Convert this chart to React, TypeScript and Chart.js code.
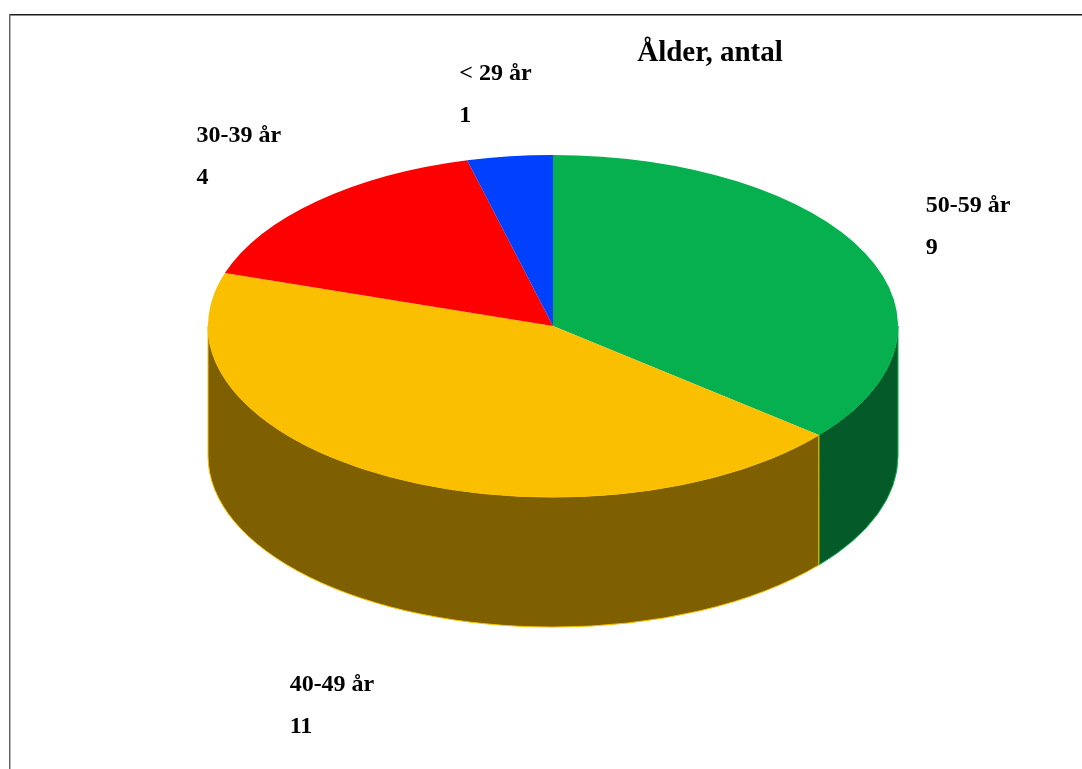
import React, { useEffect, useRef } from "react";
import { Chart, registerables } from "chart.js";

Chart.register(...registerables);

const categories = ["50-59 år", "40-49 år", "30-39 år", "< 29 år"];
const counts = [9, 11, 4, 1];
const titleText = "Ålder, antal";
const topColors = ["#07B04F", "#FAC000", "#FF0000", "#0040FF"];
const sideColors = ["#045A28", "#7F6000", "#800000", "#002080"];

const pie3d = {
  id: "pie3d",
  beforeDraw(chart: any) {
    const ctx = chart.ctx;
    ctx.save();
    ctx.fillStyle = "#1a1a1a";
    ctx.fillRect(9, 14, chart.width - 9, 1.5);
    ctx.fillStyle = "#666666";
    ctx.fillRect(9, 14, 1.5, chart.height - 14);
    ctx.restore();
  },
  beforeDatasetsDraw(chart: any, _args: any, opts: any) {
    const ctx = chart.ctx;
    const arcs = chart.getDatasetMeta(0).data as any[];
    if (!arcs.length) return;
    const cx = arcs[0].x;
    const cy = arcs[0].y;
    const r = arcs[0].outerRadius;
    const Y = opts.centerY;
    const ry = r * opts.tilt;
    const d = opts.depth;
    ctx.save();
    arcs.forEach((arc: any, i: number) => {
      const b0 = Math.max(arc.startAngle, 0);
      const b1 = Math.min(arc.endAngle, Math.PI);
      if (b1 <= b0) return;
      ctx.beginPath();
      ctx.ellipse(cx, Y, r, ry, 0, b0, b1);
      ctx.lineTo(cx + r * Math.cos(b1), Y + d + ry * Math.sin(b1));
      ctx.ellipse(cx, Y + d, r, ry, 0, b1, b0, true);
      ctx.closePath();
      ctx.fillStyle = sideColors[i];
      ctx.fill();
      ctx.lineWidth = 1;
      ctx.strokeStyle = topColors[i];
      ctx.stroke();
    });
    ctx.restore();
    ctx.save();
    ctx.translate(0, Y);
    ctx.scale(1, opts.tilt);
    ctx.translate(0, -cy);
  },
  afterDatasetsDraw(chart: any, _args: any, opts: any) {
    const ctx = chart.ctx;
    ctx.restore();
    const arcs = chart.getDatasetMeta(0).data as any[];
    if (!arcs.length) return;
    const cx = arcs[0].x;
    const r = arcs[0].outerRadius;
    const Y = opts.centerY;
    const ry = r * opts.tilt;
    ctx.save();
    ctx.fillStyle = "#000";
    ctx.textBaseline = "middle";
    ctx.font = "bold 24px 'Liberation Serif', 'Times New Roman', serif";
    arcs.forEach((arc: any, i: number) => {
      const mid = (arc.startAngle + arc.endAngle) / 2;
      const s = Math.sin(mid);
      const bx = cx + r * opts.labelKx * Math.cos(mid);
      const by = Y + ry * opts.labelKy * s + (s > 0 ? opts.depth * 1.35 : 0);
      const w = ctx.measureText(categories[i]).width;
      const left = bx - w / 2;
      ctx.textAlign = "left";
      ctx.fillText(categories[i], left, by - 21);
      ctx.fillText(String(counts[i]), left, by + 21);
    });
    ctx.font = "bold 29px 'Liberation Serif', 'Times New Roman', serif";
    ctx.textAlign = "center";
    ctx.fillText(titleText, opts.titleX, opts.titleY);
    ctx.restore();
  },
};

export default function App() {
  const ref = useRef<HTMLCanvasElement | null>(null);
  useEffect(() => {
    if (!ref.current) return;
    const chart = new Chart(ref.current, {
      type: "pie",
      data: {
        labels: categories,
        datasets: [
          {
            data: counts,
            backgroundColor: topColors,
            borderWidth: 0,
            clip: false as any,
          },
        ],
      },
      options: {
        responsive: false,
        animation: false,
        rotation: 0,
        layout: { padding: { left: 208, right: 184, top: 0, bottom: 79 } },
        plugins: {
          legend: { display: false },
          title: { display: false },
          tooltip: { enabled: false },
          pie3d: {
            centerY: 326,
            tilt: 0.496,
            depth: 130,
            labelKx: 1.33,
            labelKy: 1.36,
            titleX: 710,
            titleY: 54,
          },
        } as any,
      },
      plugins: [pie3d],
    });
    return () => chart.destroy();
  }, []);
  return (
    <div style={{ position: "absolute", left: 0, top: 0, width: 1082, height: 769, background: "#fff" }}>
      <canvas ref={ref} width={1082} height={769} style={{ display: "block" }} />
    </div>
  );
}
